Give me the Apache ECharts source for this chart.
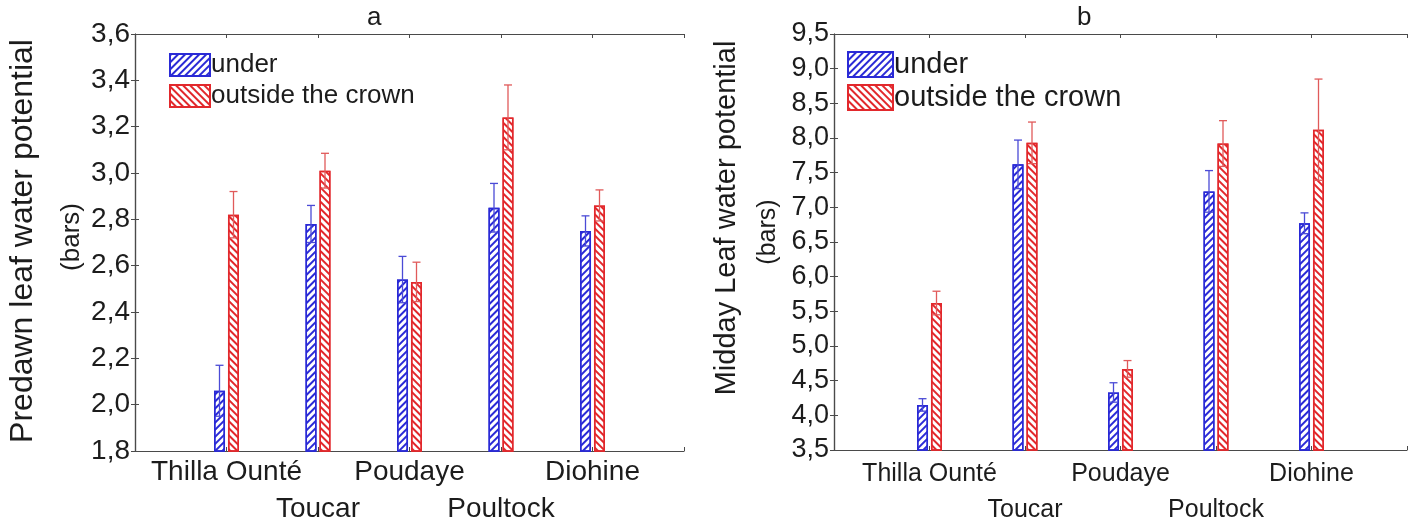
<!DOCTYPE html>
<html>
<head>
<meta charset="utf-8">
<title>Leaf water potential</title>
<script src="https://cdn.jsdelivr.net/npm/echarts@6/dist/echarts.min.js"></script>
<style>
  html, body { margin: 0; padding: 0; background: #ffffff; }
  #chart { width: 1418px; height: 528px; }
</style>
</head>
<body>
<div id="chart"></div>
<script>
// Sites along the x axis (alternating rows of labels)
const categories = ['Thilla Ounté', 'Toucar', 'Poudaye', 'Poultock', 'Diohine'];
const seriesNames = ['under', 'outside the crown'];

// Panel a: predawn leaf water potential (bars), mean and error
const predawnUnder = [2.06, 2.78, 2.54, 2.85, 2.75];
const predawnUnderErr = [0.11, 0.08, 0.10, 0.105, 0.065];
const predawnOutside = [2.82, 3.01, 2.53, 3.24, 2.86];
const predawnOutsideErr = [0.10, 0.075, 0.085, 0.14, 0.067];

// Panel b: midday leaf water potential (bars), mean and error
const middayUnder = [4.15, 7.62, 4.33, 7.23, 6.77];
const middayUnderErr = [0.09, 0.35, 0.14, 0.30, 0.15];
const middayOutside = [5.62, 7.93, 4.67, 7.92, 8.12];
const middayOutsideErr = [0.17, 0.30, 0.12, 0.33, 0.73];

const BLUE = '#2a2ad6';
const RED = '#e2282c';
const BLUE_ERR = '#4b4bd6';
const RED_ERR = '#e05a5a';
const AXIS = '#4a4a4a';
const TEXT = '#1c1c1c';
const FONT = '"Liberation Sans", Arial, sans-serif';

const chart = echarts.init(document.getElementById('chart'), null, { renderer: 'canvas' });

function commaFmt(v) { return v.toFixed(1).replace('.', ','); }

function siteLabel(v) {
  const i = Math.round(v) - 1;
  if (i < 0 || i >= categories.length) return '';
  return i % 2 === 0 ? categories[i] : '\n' + categories[i];
}

function hatch(color, rotation) {
  return {
    symbol: 'rect',
    symbolSize: 1,
    color: color,
    dashArrayX: [1, 0],
    dashArrayY: [1.6, 3.0],
    rotation: rotation
  };
}

function pairs(values) {
  return values.map((v, i) => [i + 1, v]);
}

function errTriples(values, errs) {
  return values.map((v, i) => [i + 1, v, errs[i]]);
}

function errorRenderer(offset, color) {
  return function (params, api) {
    const x = api.value(0), v = api.value(1), e = api.value(2);
    const lo = api.coord([x, v - e]);
    const hi = api.coord([x, v + e]);
    const cx = lo[0] + offset;
    const half = 4;
    const style = { stroke: color, lineWidth: 1.3 };
    return {
      type: 'group',
      children: [
        { type: 'line', shape: { x1: cx, y1: lo[1], x2: cx, y2: hi[1] }, style: style },
        { type: 'line', shape: { x1: cx - half, y1: hi[1], x2: cx + half, y2: hi[1] }, style: style },
        { type: 'line', shape: { x1: cx - half, y1: lo[1], x2: cx + half, y2: lo[1] }, style: style }
      ]
    };
  };
}

function axesFor(gridIndex, yMin, yMax, yStep, xLabelSize, yLabelSize, xLineHeight, xMargin) {
  const x = [
    {
      gridIndex: gridIndex, type: 'value', position: 'bottom', min: 0, max: 6, interval: 1,
      axisLine: { show: true, lineStyle: { color: AXIS, width: 1.2 } },
      axisTick: { show: true, inside: true, length: 4, lineStyle: { color: AXIS } },
      splitLine: { show: false },
      axisLabel: {
        formatter: siteLabel, color: TEXT, fontFamily: FONT, fontSize: xLabelSize,
        lineHeight: xLineHeight, margin: xMargin, showMinLabel: true, showMaxLabel: true
      }
    },
    {
      gridIndex: gridIndex, type: 'value', position: 'top', min: 0, max: 6, interval: 1,
      axisLine: { show: true, lineStyle: { color: AXIS, width: 1.2 } },
      axisTick: { show: true, inside: true, length: 4, lineStyle: { color: AXIS } },
      splitLine: { show: false },
      axisLabel: { show: false }
    }
  ];
  const y = [
    {
      gridIndex: gridIndex, type: 'value', position: 'left', min: yMin, max: yMax, interval: yStep,
      axisLine: { show: true, lineStyle: { color: AXIS, width: 1.2 } },
      axisTick: { show: true, inside: true, length: 4, lineStyle: { color: AXIS } },
      splitLine: { show: false },
      axisLabel: { formatter: commaFmt, color: TEXT, fontFamily: FONT, fontSize: yLabelSize, margin: 5 }
    },
    {
      gridIndex: gridIndex, type: 'value', position: 'right', min: yMin, max: yMax, interval: yStep,
      axisLine: { show: true, lineStyle: { color: AXIS, width: 1.2 } },
      axisTick: { show: true, inside: true, length: 4, lineStyle: { color: AXIS } },
      splitLine: { show: false },
      axisLabel: { show: false }
    }
  ];
  return { x: x, y: y };
}

function panelSeries(axisBase, under, underErr, outside, outsideErr) {
  const xi = axisBase * 2, yi = axisBase * 2;
  const barCommon = {
    type: 'bar', xAxisIndex: xi, yAxisIndex: yi, barWidth: 11, barGap: '27%',
    clip: true, z: 2
  };
  return [
    Object.assign({}, barCommon, {
      name: seriesNames[0], data: pairs(under),
      itemStyle: { color: '#ffffff', borderColor: BLUE, borderWidth: 1.5, decal: hatch(BLUE, -Math.PI / 4) }
    }),
    Object.assign({}, barCommon, {
      name: seriesNames[1], data: pairs(outside),
      itemStyle: { color: '#ffffff', borderColor: RED, borderWidth: 1.5, decal: hatch(RED, Math.PI / 4) }
    }),
    {
      type: 'custom', xAxisIndex: xi, yAxisIndex: yi, z: 5, silent: true,
      renderItem: errorRenderer(-7, BLUE_ERR), data: errTriples(under, underErr),
      encode: { x: 0, y: 1 }
    },
    {
      type: 'custom', xAxisIndex: xi, yAxisIndex: yi, z: 5, silent: true,
      renderItem: errorRenderer(7, RED_ERR), data: errTriples(outside, outsideErr),
      encode: { x: 0, y: 1 }
    }
  ];
}

const axesA = axesFor(0, 1.8, 3.6, 0.2, 28, 28, 37, 3);
const axesB = axesFor(1, 3.5, 9.5, 0.5, 25, 27, 36, 6);

const option = {
  backgroundColor: '#ffffff',
  animation: false,
  textStyle: { fontFamily: FONT },
  title: [
    { text: 'a', left: 362, top: 0, textStyle: { fontSize: 26, fontWeight: 'normal', color: TEXT, fontFamily: FONT } },
    { text: 'b', left: 1072, top: 0, textStyle: { fontSize: 26, fontWeight: 'normal', color: TEXT, fontFamily: FONT } }
  ],
  grid: [
    { left: 135, top: 34, width: 549, height: 417, containLabel: false },
    { left: 834, top: 34, width: 573, height: 422, containLabel: false }
  ],
  legend: [
    {
      data: seriesNames, orient: 'vertical', left: 164, top: 47, itemWidth: 40, itemHeight: 22, itemGap: 5,
      icon: 'rect', selectedMode: false,
      textStyle: { fontSize: 26, color: TEXT, fontFamily: FONT, padding: [0, 0, 0, -4] }
    },
    {
      data: seriesNames, orient: 'vertical', left: 842, top: 45, itemWidth: 45, itemHeight: 25, itemGap: 4,
      icon: 'rect', selectedMode: false,
      textStyle: { fontSize: 29, color: TEXT, fontFamily: FONT, padding: [0, 0, 0, -4] }
    }
  ],
  xAxis: axesA.x.concat(axesB.x),
  yAxis: axesA.y.concat(axesB.y),
  series: panelSeries(0, predawnUnder, predawnUnderErr, predawnOutside, predawnOutsideErr)
    .concat(panelSeries(1, middayUnder, middayUnderErr, middayOutside, middayOutsideErr)),
  graphic: [
    {
      type: 'text', x: 23, y: 241, rotation: Math.PI / 2,
      style: { text: 'Predawn leaf water potential', fontSize: 32, fontFamily: FONT, fill: TEXT, align: 'center', verticalAlign: 'middle' }
    },
    {
      type: 'text', x: 72, y: 237, rotation: Math.PI / 2,
      style: { text: '(bars)', fontSize: 26, fontFamily: FONT, fill: TEXT, align: 'center', verticalAlign: 'middle' }
    },
    {
      type: 'text', x: 727, y: 218, rotation: Math.PI / 2,
      style: { text: 'Midday Leaf water potential', fontSize: 29, fontFamily: FONT, fill: TEXT, align: 'center', verticalAlign: 'middle' }
    },
    {
      type: 'text', x: 768, y: 232, rotation: Math.PI / 2,
      style: { text: '(bars)', fontSize: 25, fontFamily: FONT, fill: TEXT, align: 'center', verticalAlign: 'middle' }
    }
  ]
};

chart.setOption(option);
</script>
</body>
</html>
